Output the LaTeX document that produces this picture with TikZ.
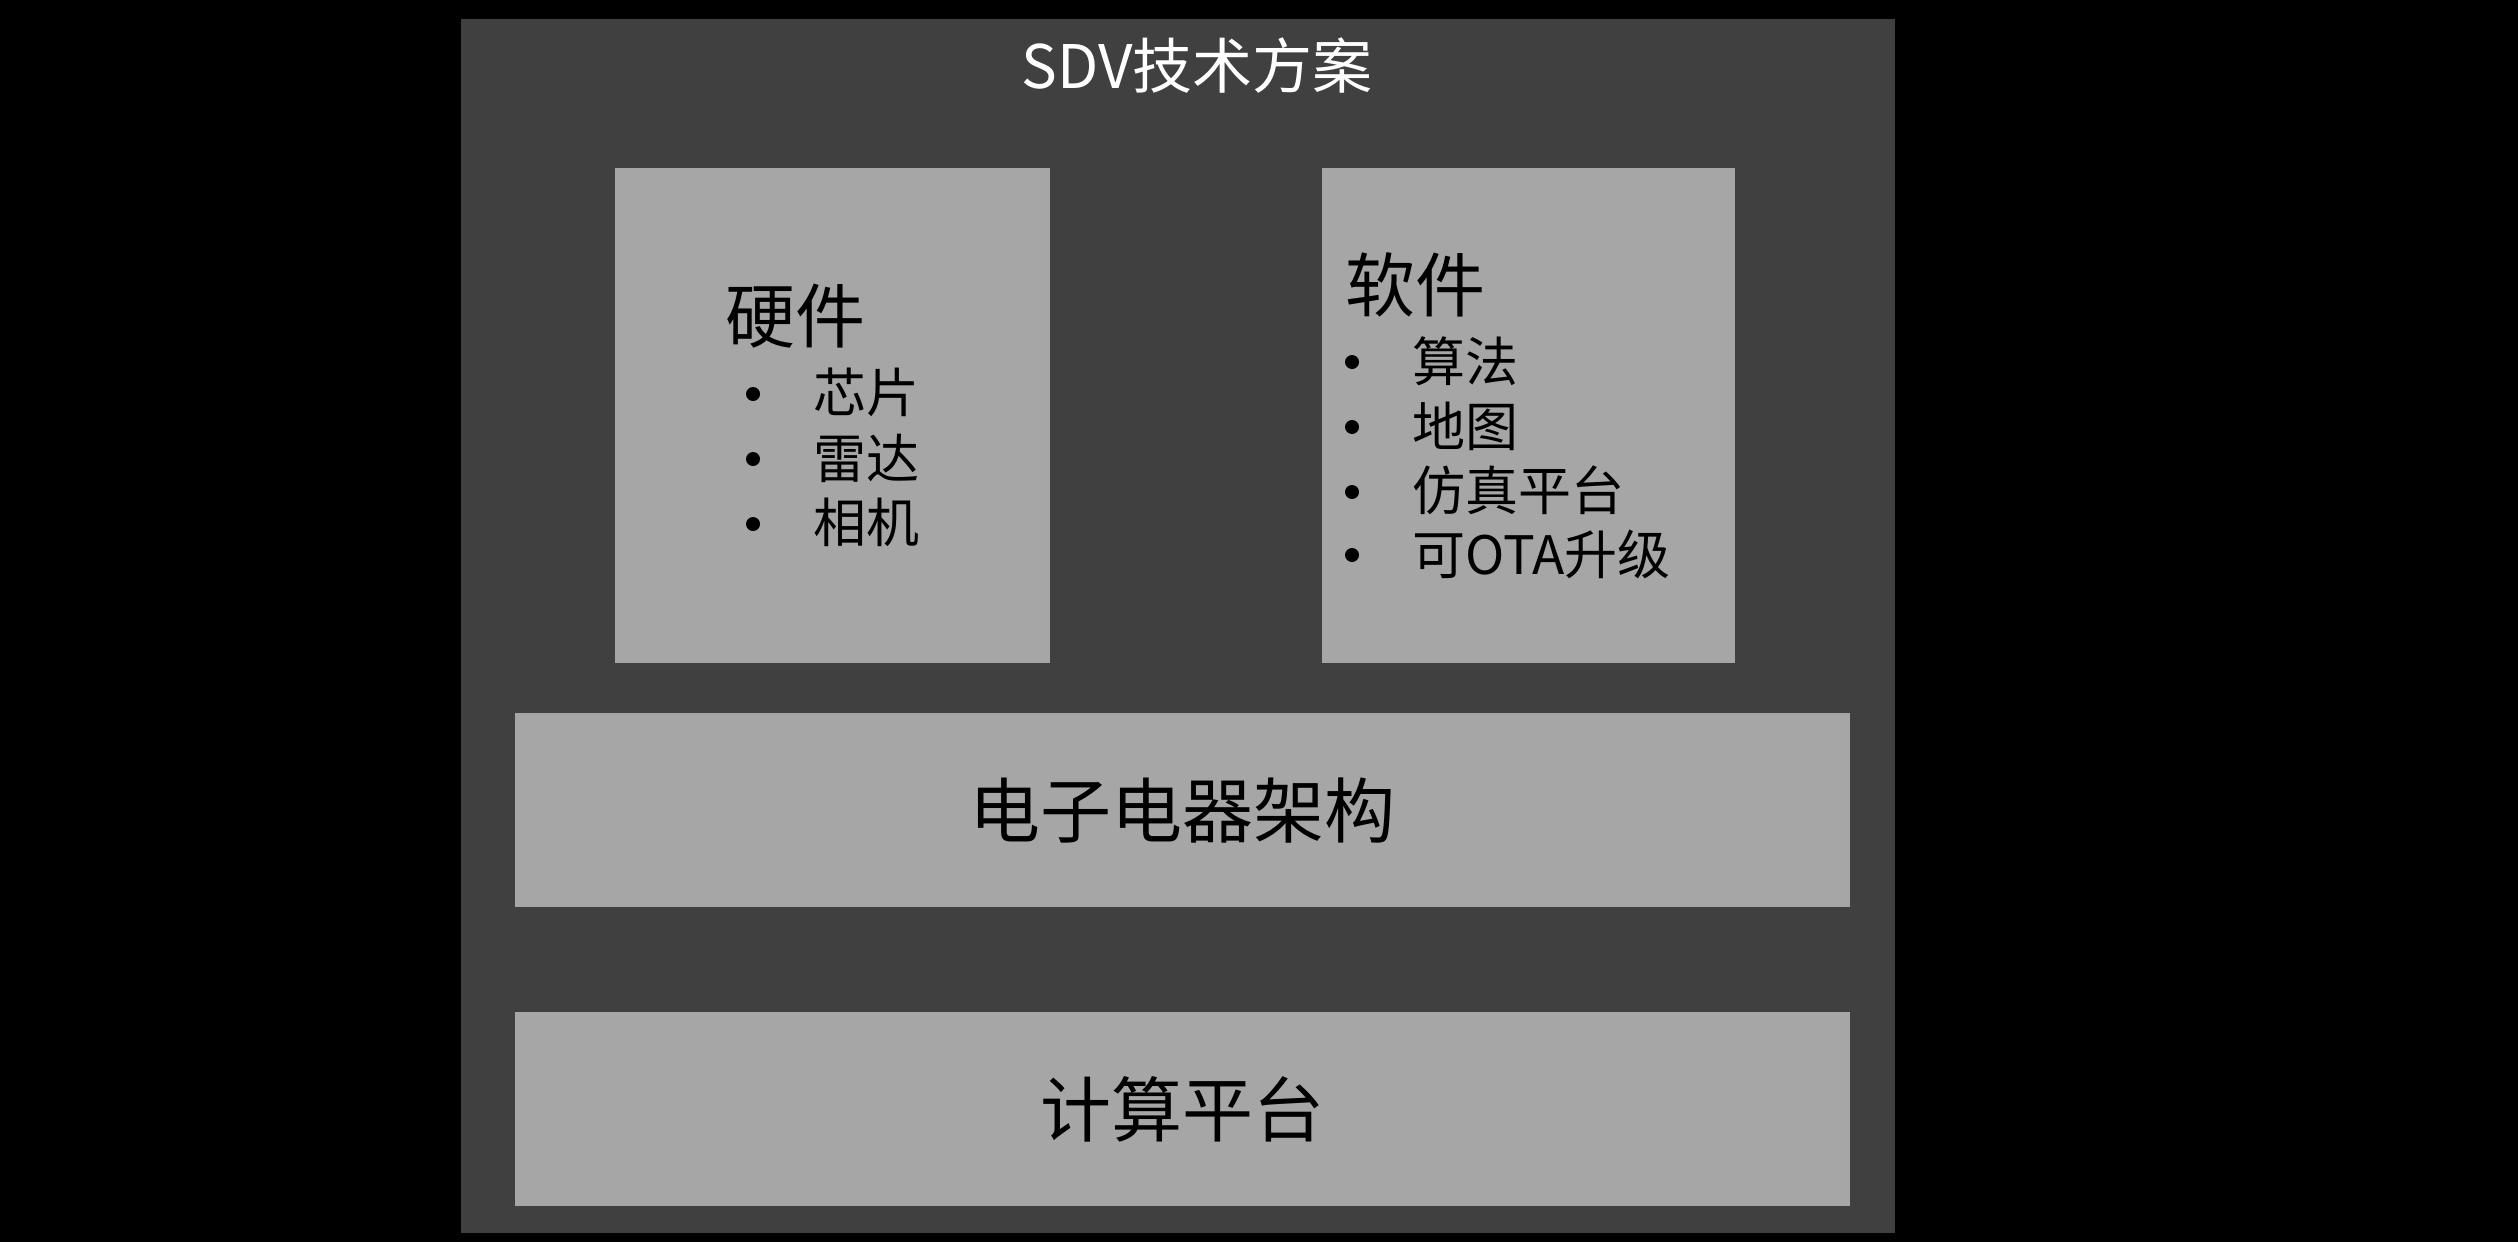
\documentclass[tikz,border=0pt]{standalone}
\usepackage{fontspec}
\newfontfamily\cjk{Noto Sans CJK SC}
\definecolor{darkbg}{HTML}{404040}
\definecolor{lightbox}{HTML}{A6A6A6}
\begin{document}
\begin{tikzpicture}[x=1pt,y=-1pt,
  panel/.style={fill=lightbox, draw=none, inner sep=0pt, anchor=north west},
  heading/.style={anchor=base west, inner sep=0pt, font=\cjk\fontsize{70}{70}\selectfont},
  item/.style={anchor=base west, inner sep=0pt, font=\cjk\fontsize{53}{53}\selectfont},
  bigtext/.style={anchor=center, inner sep=0pt, font=\cjk\fontsize{71}{71}\selectfont},
  dot/.style={fill=black}
]
\fill[black] (0,0) rectangle (2518,1242);
\useasboundingbox (0,0) rectangle (2518,1242);
\node[fill=darkbg, inner sep=0pt, anchor=north west, minimum width=1434pt, minimum height=1214pt] (outer) at (461,19) {};
\node[anchor=base, inner sep=0pt, text=white, font=\cjk\fontsize{60}{60}\selectfont] (title) at (1197,88) {SDV技术方案};

\node[panel, minimum width=435pt, minimum height=495pt] (hw) at (615,168) {};
\node[panel, minimum width=413pt, minimum height=495pt] (sw) at (1322,168) {};
\node[panel, minimum width=1335pt, minimum height=194pt] (ee) at (515,713) {};
\node[panel, minimum width=1335pt, minimum height=194pt] (cp) at (515,1012) {};

% hardware
\node[heading] (hwt) at (725,342) {硬件};
\node[item] (hw1) at (813,412) {芯片};
\node[item] (hw2) at (813,478) {雷达};
\node[item] (hw3) at (813,542) {相机};
\fill[dot] (753,394) circle (7);
\fill[dot] (753,459) circle (7);
\fill[dot] (753,524) circle (7);

% software
\node[heading] (swt) at (1345,311) {软件};
\node[item] (sw1) at (1412,381) {算法};
\node[item] (sw2) at (1412,446) {地图};
\node[item] (sw3) at (1412,510) {仿真平台};
\node[item] (sw4) at (1412,574) {可OTA升级};
\fill[dot] (1352,362) circle (7);
\fill[dot] (1352,427) circle (7);
\fill[dot] (1352,492) circle (7);
\fill[dot] (1352,555) circle (7);

\node[bigtext] (eet) at (ee.center) {电子电器架构};
\node[bigtext] (cpt) at (cp.center) {计算平台};
\end{tikzpicture}
\end{document}
